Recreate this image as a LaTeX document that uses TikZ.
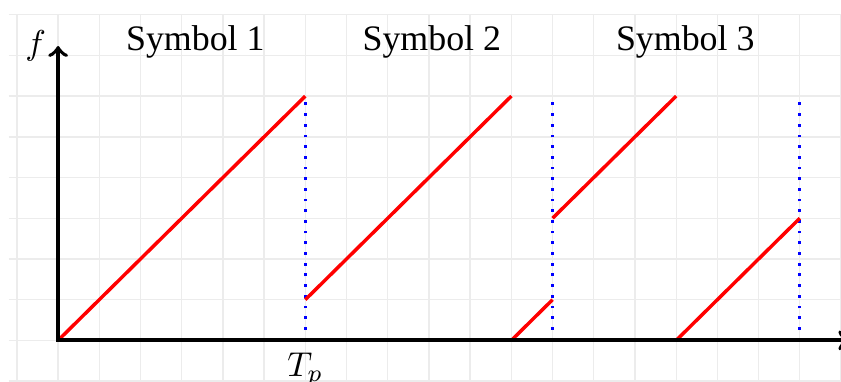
\documentclass[tikz,border=0pt]{standalone}
\usepackage{fontspec}
\setmainfont{Liberation Serif}
\usepackage{amsmath}
\usepackage{xcolor}
\usepackage{tikz}

\begin{document}
\begin{tikzpicture}[x=4.2mm, y=4.15mm,
                    font=\fontsize{10.4pt}{12pt}\selectfont,
                    chirp/.style={red, line width=1pt},
                    bound/.style={blue, line width=0.8pt, dash pattern=on 0.8pt off 2.3pt},
                    axis/.style={line width=1.1pt, <->}]
  \useasboundingbox (-1.41,-1.01) rectangle (19,8.36);
  \draw[gray!15, thin, step=1] (-1.2,-1) grid (19,8);

  \coordinate (o) at (0,0);
  \coordinate (ytip) at (0,7.23);
  \coordinate (xtip) at (19.2,0);

  % symbol boundaries
  \coordinate (b1) at (6,0);   \coordinate (b1t) at (6,6);
  \coordinate (b2) at (12,0);  \coordinate (b2t) at (12,6);
  \coordinate (b3) at (18,0);  \coordinate (b3t) at (18,6);
  \draw[bound] (b1) -- (b1t);
  \draw[bound] (b2) -- (b2t);
  \draw[bound] (b3) -- (b3t);

  % chirps
  \coordinate (s2a) at (6,1);   \coordinate (s2b) at (11,6);
  \coordinate (s2c) at (11,0);  \coordinate (s2d) at (12,1);
  \coordinate (s3a) at (12,3);  \coordinate (s3b) at (15,6);
  \coordinate (s3c) at (15,0);  \coordinate (s3d) at (18,3);
  \draw[chirp] (o) -- (b1t);
  \draw[chirp] (s2a) -- (s2b);
  \draw[chirp] (s2c) -- (s2d);
  \draw[chirp] (s3a) -- (s3b);
  \draw[chirp] (s3c) -- (s3d);

  \draw[axis] (ytip) -- (o) -- (xtip);
  \node[left] (flabel) at (ytip) {$f$};
  \node[below] (tp) at (b1) {$T_p$};

  \node (sym1) at (3.33,7.33) {Symbol 1};
  \node (sym2) at (9.07,7.33) {Symbol 2};
  \node (sym3) at (15.22,7.33) {Symbol 3};
\end{tikzpicture}
\end{document}
